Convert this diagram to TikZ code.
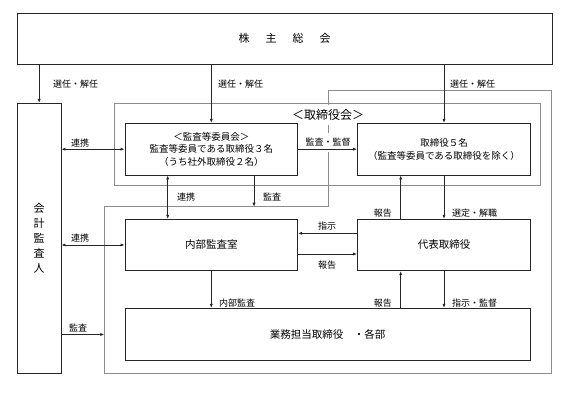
\documentclass[tikz,border=0pt]{standalone}
\usepackage{fontspec}
\setmainfont{Noto Sans CJK JP}
\usetikzlibrary{arrows.meta,positioning,calc}

\begin{document}
\begin{tikzpicture}[x=1pt,y=-1pt,
      box/.style={draw=black!85,line width=0.8pt,inner sep=0pt,align=center,
        font=\fontsize{10.5}{13}\selectfont},
      grp/.style={draw=black!45,line width=0.8pt,inner sep=0pt},
      arrow/.style={-{Latex[length=4pt,width=3.2pt]},line width=0.8pt,draw=black!85},
      both/.style={{Latex[length=4pt,width=3.2pt]}-{Latex[length=4pt,width=3.2pt]},
        line width=0.8pt,draw=black!85},
      lbl/.style={font=\fontsize{9}{10}\selectfont,inner sep=1pt},
      >=Latex
    ]
    \useasboundingbox (0,0) rectangle (569,412);

    % Board area outline
    \draw[grp] (328,90.7) -- (551.7,90.7) -- (551.7,373.3) -- (104.3,373.3)
      -- (104.3,206.7) -- (328,206.7) -- cycle;
    \coordinate (grpW) at (104.3,334.5);
    \coordinate (grpN) at (254,206.7);

    % Top level
    \node[box,minimum width=534.6,minimum height=51,font=\fontsize{11}{13}\selectfont]
      (soukai) at (284.7,38.8) {株\hspace{16pt}主\hspace{16pt}総\hspace{16pt}会};

    % Auditor
    \node[box,minimum width=43.6,minimum height=270,font=\fontsize{11}{15}\selectfont]
      (kaikei) at (39.2,238.3) {会\\計\\監\\査\\人};

    % Board of directors
    \node[grp,minimum width=426,minimum height=82.4] (board) at (327.5,144.5) {};
    \node[fill=white,inner sep=0pt,minimum height=20,font=\fontsize{12}{14}\selectfont]
      (boardlbl) at (328,115) {＜取締役会＞};
    \node[box,minimum width=172.7,minimum height=51.7,font=\fontsize{9.5}{12.7}\selectfont]
      (kansa) at (211.3,149.2) {＜監査等委員会＞\\監査等委員である取締役３名\\（うち社外取締役２名）};
    \node[box,minimum width=173,minimum height=51.7,font=\fontsize{9.5}{12.7}\selectfont]
      (tori) at (444,149.2) {取締役５名\\（監査等委員である取締役を除く）};

    % Execution
    \node[box,minimum width=172.7,minimum height=51.4] (naibu) at (211.3,245) {内部監査室};
    \node[box,minimum width=173,minimum height=51.4] (daihyo) at (444,245) {代表取締役};
    \node[box,minimum width=405.5,minimum height=52.4] (gyomu) at (327.7,334.5)
      {業務担当取締役　・各部};

    % Election
    \draw[arrow] (soukai.south -| kaikei.north) -- (kaikei.north);
    \draw[arrow] (soukai.south -| kansa.north) -- (kansa.north);
    \draw[arrow] (soukai.south -| tori.north) -- (tori.north);
    \node[lbl,anchor=west] at (52,84) {選任・解任};
    \node[lbl,anchor=west] at (217,84) {選任・解任};
    \node[lbl,anchor=west] at (449,84) {選任・解任};

    % Auditor links
    \draw[both] (kaikei.east |- kansa.west) -- (kansa.west);
    \node[lbl] at (80,143) {連携};
    \draw[both] (kaikei.east |- naibu.west) -- (naibu.west);
    \node[lbl] at (80,238) {連携};
    \draw[arrow] (kaikei.east |- grpW) -- (grpW);
    \node[lbl] at (78,328) {監査};

    % Committee
    \draw[both] ([xshift=-43.6]kansa.south) -- ([xshift=-43.6]naibu.north);
    \node[lbl,anchor=west] at (176,197) {連携};
    \draw[arrow] (kansa.south -| grpN) -- (grpN);
    \node[lbl,anchor=west] at (262,197) {監査};
    \node[lbl,fill=white,minimum height=19] at (328,142) {監査・監督};
    \draw[arrow] (kansa.east) -- (tori.west);

    % Representative director
    \draw[arrow] ([xshift=-43.3]daihyo.north) -- ([xshift=-43.3]tori.south);
    \node[lbl,anchor=east] at (393,213) {報告};
    \draw[arrow] (tori.south) -- (daihyo.north);
    \node[lbl,anchor=west] at (451,213) {選定・解職};
    \draw[arrow] ([yshift=11.7]daihyo.west) -- ([yshift=11.7]naibu.east);
    \node[lbl] at (327,226) {指示};
    \draw[arrow] ([yshift=-9]naibu.east) -- ([yshift=-9]daihyo.west);
    \node[lbl] at (327,265) {報告};

    % Operations
    \draw[arrow] (naibu.south) -- (naibu.south |- gyomu.north);
    \node[lbl,anchor=west] at (218,303) {内部監査};
    \draw[arrow] ([xshift=73]gyomu.north) -- ([xshift=-43.3]daihyo.south);
    \node[lbl,anchor=east] at (393,303) {報告};
    \draw[arrow] (daihyo.south) -- (daihyo.south |- gyomu.north);
    \node[lbl,anchor=west] at (451,303) {指示・監督};

  \end{tikzpicture}
\end{document}
